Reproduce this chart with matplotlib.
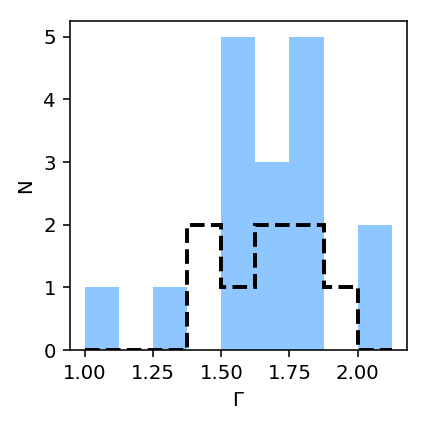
import matplotlib
matplotlib.use("Agg")
import matplotlib.pyplot as plt
import numpy as np

edges = np.arange(1.0, 2.126, 0.125)
centers = 0.5 * (edges[:-1] + edges[1:])
counts_all = [1, 0, 1, 0, 5, 3, 5, 0, 2]
counts_sub = [0, 0, 0, 2, 1, 2, 2, 1, 0]

fig, ax = plt.subplots(figsize=(3.014, 3.0), dpi=142)
fig.subplots_adjust(left=0.163, right=0.951, top=0.951, bottom=0.178)

ax.hist(centers, bins=edges, weights=counts_all, color="#1E90FF", alpha=0.5)
ax.hist(centers, bins=edges, weights=counts_sub, histtype="step",
        color="black", linestyle="--", linewidth=2)

ax.set_xlabel(r"$\Gamma$")
ax.set_ylabel("N")
ax.set_xticks([1.0, 1.25, 1.5, 1.75, 2.0])
ax.set_yticks([0, 1, 2, 3, 4, 5])

fig.savefig("out.png", dpi=142)
